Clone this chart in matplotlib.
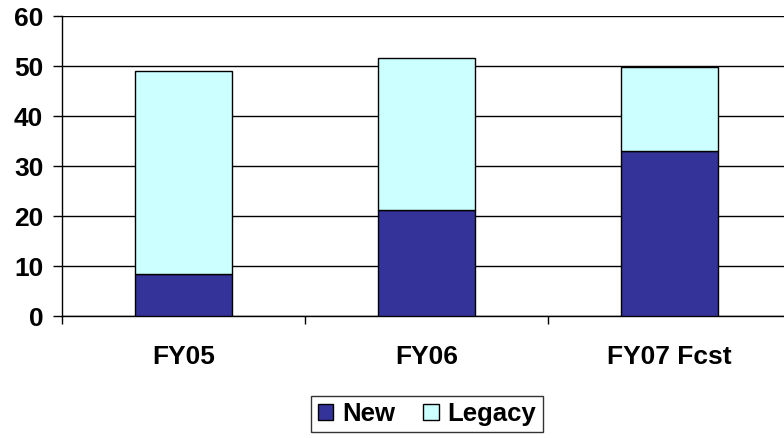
import matplotlib
matplotlib.use("Agg")
import matplotlib.pyplot as plt
from matplotlib.patches import Patch

categories = ["FY05", "FY06", "FY07 Fcst"]
new_vals = [8.4, 21.3, 33.0]
legacy_vals = [40.6, 30.4, 16.8]
yticks = [0, 10, 20, 30, 40, 50, 60]

plt.rcParams['font.family'] = ['Liberation Sans', 'DejaVu Sans']

fig = plt.figure(figsize=(7.84, 4.38), dpi=100)
W, H = 784, 438
ax = fig.add_axes([62 / W, 1 - 316 / H, (784 - 62) / W, 300 / H])

x = list(range(len(categories)))
ax.bar(x, new_vals, width=0.4, color="#333399", edgecolor="black", linewidth=1.0, zorder=3, label="New")
ax.bar(x, legacy_vals, width=0.4, bottom=new_vals, color="#CCFFFF", edgecolor="black", linewidth=1.0, zorder=3, label="Legacy")

ax.set_ylim(0, 60)
ax.set_xlim(-0.5, 2.5 - 7 / 243)
ax.set_yticks(yticks)
ax.set_yticklabels([str(t) for t in yticks], fontsize=19, fontweight="bold")
ax.yaxis.grid(True, color="black", linewidth=1.0, zorder=0)
ax.set_axisbelow(True)

ax.set_xticks(x)
ax.set_xticklabels(categories, fontsize=19, fontweight="bold")
ax.tick_params(axis="x", length=0, pad=21)
ax.set_xticks([-0.5, 0.5, 1.5], minor=True)
ax.tick_params(axis="x", which="minor", length=6, width=1, color="black", direction="out")
ax.tick_params(axis="y", length=6.5, width=1, direction="out", pad=7)

for s in ["top", "right"]:
    ax.spines[s].set_visible(False)
for s in ["left", "bottom"]:
    ax.spines[s].set_color("black")
    ax.spines[s].set_linewidth(1.0)

handles = [Patch(facecolor="#333399", edgecolor="black", label="New"),
           Patch(facecolor="#CCFFFF", edgecolor="black", label="Legacy")]
leg = fig.legend(handles=handles, loc="center", bbox_to_anchor=(427 / W, 1 - 414 / H), ncol=2,
                 frameon=True, fancybox=False, edgecolor="black",
                 prop={"weight": "bold", "size": 18.5}, handlelength=0.6, handleheight=0.6,
                 handletextpad=0.35, columnspacing=1.1, borderpad=0.25, borderaxespad=0)
leg.get_frame().set_linewidth(1.0)

fig.savefig("out.png", dpi=100)
